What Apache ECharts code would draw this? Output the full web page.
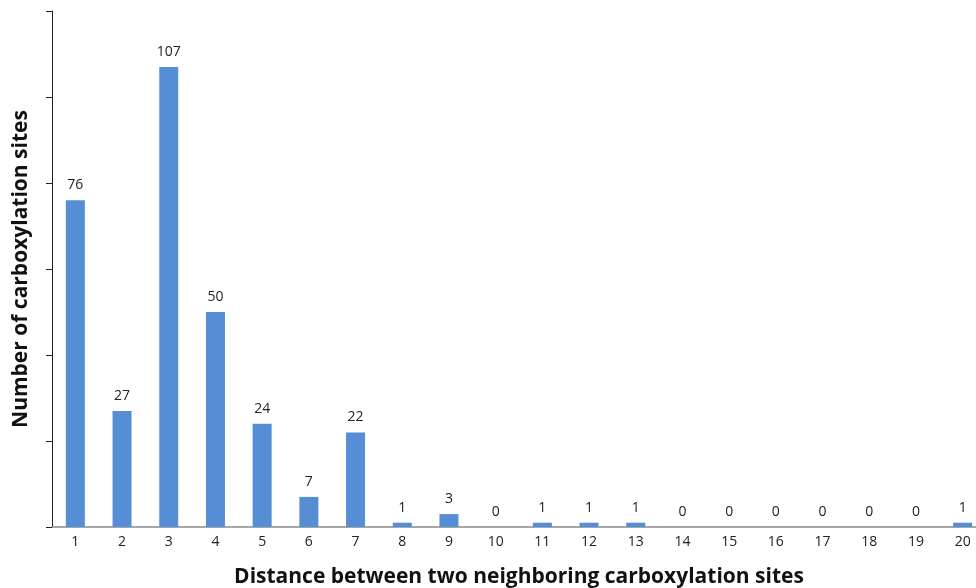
<!DOCTYPE html>
<html><head><meta charset="utf-8">
<script src="https://cdn.jsdelivr.net/npm/echarts@6/dist/echarts.min.js"></script>
<style>html,body{margin:0;padding:0;background:#fff}#c{width:976px;height:588px}</style>
</head><body><div id="c"></div>
<script>
const categories = ['1','2','3','4','5','6','7','8','9','10','11','12','13','14','15','16','17','18','19','20'];
const counts = [76,27,107,50,24,7,22,1,3,0,1,1,1,0,0,0,0,0,0,1];
const xTitle = 'Distance between two neighboring carboxylation sites';
const yTitle = 'Number of carboxylation sites';

const chart = echarts.init(document.getElementById('c'));
chart.setOption({
  animation: false,
  grid: {left: 52, right: -10, top: 11, bottom: 61, containLabel: false, outerBoundsMode: 'none'},
  xAxis: {
    type: 'category', data: categories,
    name: xTitle, nameLocation: 'middle', nameGap: 40,
    nameTextStyle: {fontFamily: 'Open Sans', fontWeight: 'bold', fontSize: 21, color: '#111'},
    axisLine: {lineStyle: {color: '#8a8a8a', width: 1.5}},
    axisTick: {show: false},
    axisLabel: {fontFamily: 'Open Sans', fontSize: 14, color: '#222', margin: 8, interval: 0}
  },
  yAxis: {
    type: 'value', min: 0, max: 120, interval: 20,
    name: yTitle, nameLocation: 'middle', nameGap: 20,
    nameTextStyle: {fontFamily: 'Open Sans', fontWeight: 'bold', fontSize: 21, color: '#111'},
    axisLine: {show: true, lineStyle: {color: '#222', width: 1}},
    axisTick: {show: true, length: 6, lineStyle: {color: '#222'}},
    axisLabel: {show: false},
    splitLine: {show: false}
  },
  series: [{
    type: 'bar', data: counts, barWidth: 19,
    itemStyle: {color: '#558ED5'},
    label: {show: true, position: 'top', distance: 8, fontFamily: 'Open Sans', fontSize: 14, color: '#222'}
  }]
});
</script></body></html>
